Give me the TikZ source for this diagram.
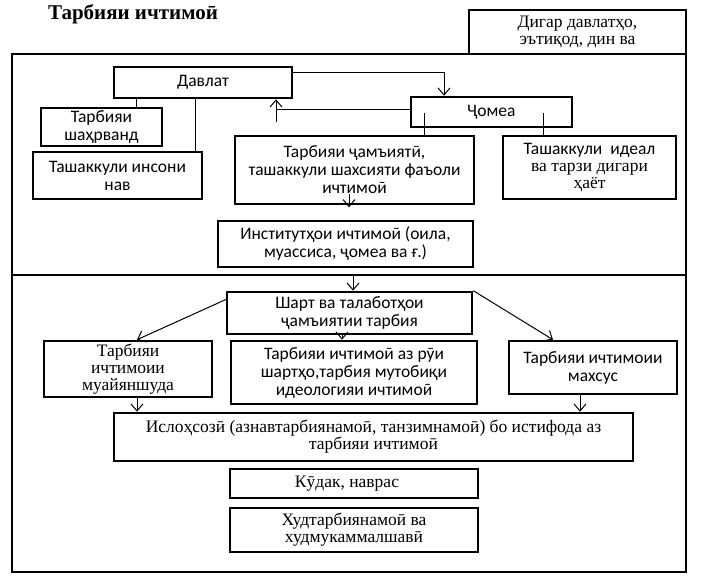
\documentclass[tikz,border=0pt]{standalone}
\usepackage{fontspec}
\setmainfont{Liberation Serif}
\newfontfamily\sansA{Carlito}
\usetikzlibrary{arrows.meta,calc}
\tikzset{
  box/.style={draw, line width=2.6pt, inner sep=0pt, align=center},
  sbox/.style={box, font=\sansA\fontsize{17.5}{18}\selectfont},
  rbox/.style={box, font=\fontsize{17.5}{17}\selectfont},
  conn/.style={line width=1pt},
  arr/.style={conn, -{Straight Barb[length=7pt,width=12pt]}},
  frame/.style={line width=2.8pt}
}
\begin{document}
\begin{tikzpicture}[x=1pt,y=-1pt]
\useasboundingbox (0,0) rectangle (705,581);
% frame
\draw[frame] (12,54) rectangle (686,572);
\draw[frame] (12,275) -- (686,275);
% title
\node[font=\bfseries\fontsize{21}{24}\selectfont] (title) at (133,14) {Тарбияи ичтимоӣ};
% nodes
\node[rbox, minimum width=217, minimum height=44] (other) at (577.5,32) {Дигар давлатҳо,\\ эътиқод, дин ва};
\node[sbox, minimum width=178, minimum height=31] (davlat) at (203,82.5) {Давлат};
\node[sbox, minimum width=121, minimum height=38] (shahrvand) at (101.5,127) {Тарбияи\\ шаҳрванд};
\node[sbox, minimum width=169, minimum height=47] (insoni) at (117.5,175.5) {Ташаккули инсони\\ нав};
\node[sbox, minimum width=161, minimum height=30] (jomea) at (491.5,112) {Ҷомеа};
\node[sbox, minimum width=239, minimum height=68] (jamiyati) at (354.5,170) {Тарбияи ҷамъиятӣ,\\ ташаккули шахсияти фаъоли\\ ичтимоӣ};
\node[rbox, minimum width=173, minimum height=63] (ideal) at (589.5,167.5) {{\sansA Ташаккули\ \ идеал}\\ ва тарзи дигари\\ ҳаёт};
\node[sbox, minimum width=255, minimum height=46] (instit) at (345.5,244) {Институтҳои ичтимоӣ (оила,\\ муассиса, ҷомеа ва ғ.)};
\node[sbox, minimum width=245, minimum height=42] (shart) at (349.5,313) {Шарт ва талаботҳои\\ ҷамъиятии тарбия};
\node[rbox, minimum width=168, minimum height=56] (muayan) at (128,369) {Тарбияи\\ ичтимоии\\ муайяншуда};
\node[sbox, minimum width=246, minimum height=63] (azrui) at (354,372.5) {Тарбияи ичтимоӣ аз рӯи\\ шартҳо,тарбия мутобиқи\\ идеологияи ичтимоӣ};
\node[sbox, minimum width=168, minimum height=53] (mahsus) at (593,367.5) {Тарбияи ичтимоии\\ махсус};
\node[rbox, minimum width=519, minimum height=48] (isloh) at (373.5,437) {Ислоҳсозӣ (азнавтарбиянамоӣ, танзимнамоӣ) бо истифода аз\\ тарбияи ичтимоӣ};
\node[rbox, minimum width=248, minimum height=29] (kudak) at (354,483.5) {\hspace*{-14pt}Кӯдак, наврас};
\node[rbox, minimum width=248, minimum height=44] (hud) at (354,530) {Худтарбиянамоӣ ва\\ худмукаммалшавӣ};
% helper coordinates
\coordinate (c1) at (136,0);
\coordinate (c2) at (195,0);
\coordinate (c3) at (444,72);
\coordinate (c4) at (276,109);
\coordinate (c4b) at (276,122);
\coordinate (c5) at (424,113);
\coordinate (c6) at (543,113);
\coordinate (c7) at (349,194);
\coordinate (c8) at (353,275);
\coordinate (c9) at (227,299);
\coordinate (c10) at (137,0);
\coordinate (c11) at (553,0);
\coordinate (c12) at (342,0);
\coordinate (c13) at (580,0);
% connectors
\draw[conn] (davlat.south -| c1) -- (shahrvand.north -| c1);
\draw[conn] (davlat.south -| c2) -- (insoni.north -| c2);
\draw[arr] (davlat.east |- c3) -| (jomea.north -| c3);
\draw[conn] (jomea.west |- c4) -- (c4);
\draw[arr] (c4b) -- (davlat.south -| c4b);
\draw[conn] (c5) -- (jamiyati.north -| c5);
\draw[conn] (c6) -- (ideal.north -| c6);
\draw[arr] (c7) -- ($(jamiyati.south -| c7)+(0,2)$);
\draw[arr] (c8) -- (shart.north -| c8);
\draw[arr] (c9) -- (muayan.north -| c10);
\draw[arr] (shart.north east) -- (mahsus.north -| c11);
\draw[arr] (shart.south -| c12) -- (azrui.north -| c12);
\draw[arr] (muayan.south -| c10) -- (isloh.north -| c10);
\draw[arr] (mahsus.south -| c13) -- (isloh.north -| c13);
\end{tikzpicture}
\end{document}
